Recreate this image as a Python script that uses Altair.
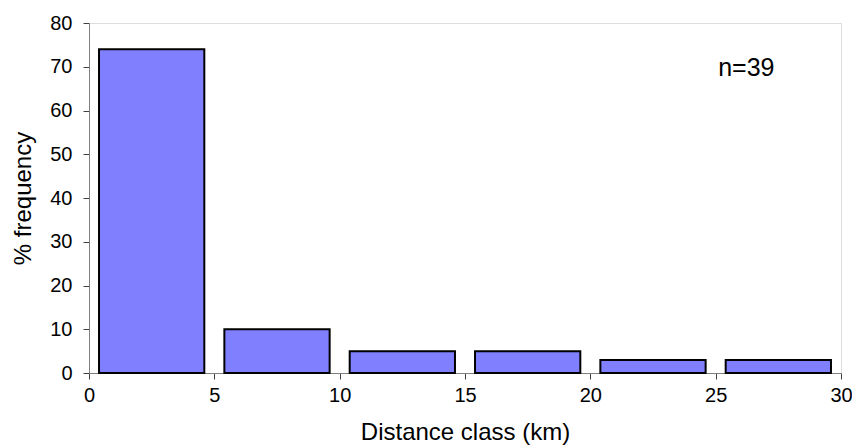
import altair as alt
import pandas as pd

bin_start = [0, 5, 10, 15, 20, 25]
bin_end = [5, 10, 15, 20, 25, 30]
pct = [74, 10, 5, 5, 3, 3]
note_text = ["n=39"]
note_x = [25.1]
note_y = [69.7]

df = pd.DataFrame({"start": bin_start, "end": bin_end, "pct": pct})
note = pd.DataFrame({"x": note_x, "y": note_y, "t": note_text})

FONT = "Liberation Sans"
GAP = 0.4

xscale = alt.Scale(domain=[0, 30], nice=False, zero=False)
yscale = alt.Scale(domain=[0, 80], nice=False)

bars = alt.Chart(df).transform_calculate(
    x0=f"datum.start + {GAP}", x1=f"datum.end - {GAP}"
).mark_rect(fill="#8080FF", stroke="#000000", strokeWidth=2).encode(
    x=alt.X("x0:Q", scale=xscale,
            axis=alt.Axis(title="Distance class (km)", values=[0, 5, 10, 15, 20, 25, 30],
                          format="d", grid=False, domainColor="#808080", tickColor="#404040",
                          tickSize=6, labelPadding=6, titlePadding=15, labelFlush=False,
                          labelFontSize=20, titleFontSize=24, labelFont=FONT, titleFont=FONT,
                          titleFontWeight="normal", labelColor="#000", titleColor="#000")),
    x2="x1:Q",
    y=alt.Y("pct:Q", scale=yscale,
            axis=alt.Axis(title="% frequency", values=[0, 10, 20, 30, 40, 50, 60, 70, 80],
                          grid=False, domainColor="#808080", tickColor="#404040",
                          tickSize=6, labelPadding=11, titlePadding=14, labelFlush=False,
                          labelFontSize=20, titleFontSize=24, labelFont=FONT, titleFont=FONT,
                          titleFontWeight="normal", labelColor="#000", titleColor="#000")),
    y2=alt.datum(0),
)

text = alt.Chart(note).mark_text(align="left", baseline="middle", font=FONT, fontSize=25,
                                 color="#000").encode(
    x=alt.X("x:Q", scale=xscale), y=alt.Y("y:Q", scale=yscale), text="t:N")

chart = (bars + text).properties(
    width=752, height=350,
    autosize=alt.AutoSizeParams(type="none"),
    padding={"left": 81, "top": 15, "right": 11, "bottom": 76},
).configure_view(stroke=None).configure(background="white")

chart.save("out.html", embed_options={"renderer": "svg", "actions": False})
